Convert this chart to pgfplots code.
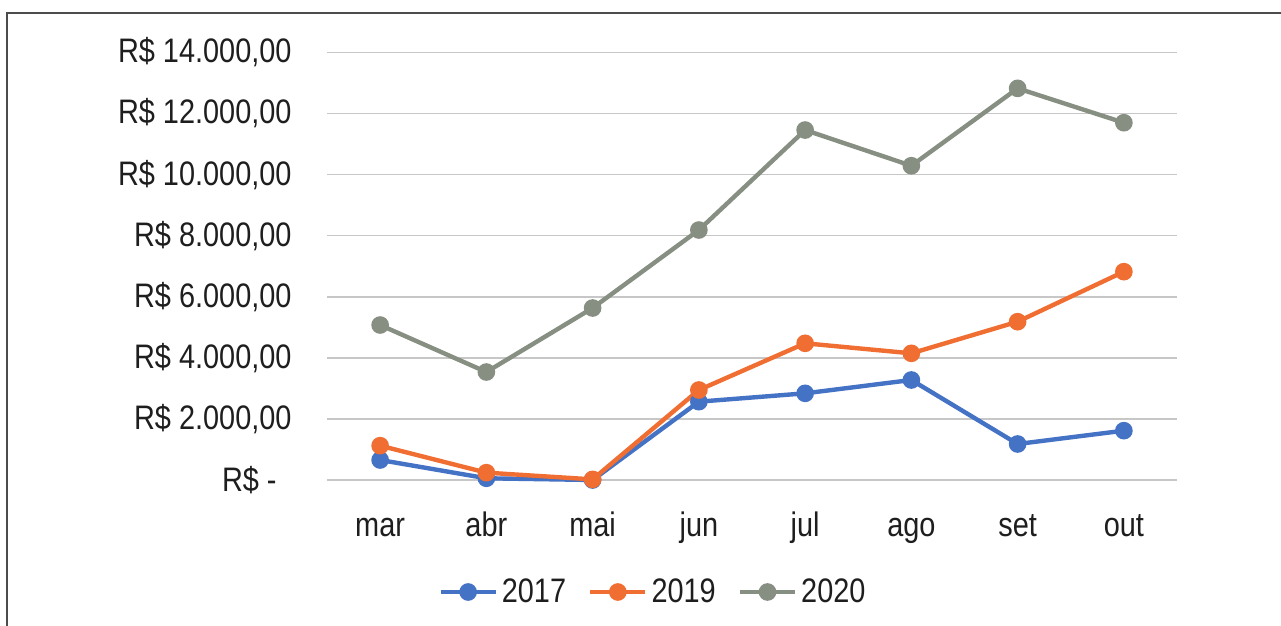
\documentclass[border=0pt]{standalone}
\usepackage{fontspec}
\setmainfont{Liberation Sans}[FakeStretch=0.85]
\usepackage{pgfplots}
\pgfplotsset{compat=1.18}
\definecolor{cblue}{RGB}{68,114,196}
\definecolor{corange}{RGB}{240,110,50}
\definecolor{cgray}{RGB}{135,142,130}
\definecolor{ctext}{RGB}{30,30,30}
\begin{document}
\begin{tikzpicture}
\path[use as bounding box] (0pt,0pt) rectangle (640.5pt,313pt);
\draw[line width=0.8pt, color=black!70] (3.5pt,-5pt) -- (3.5pt,306.5pt) -- (645pt,306.5pt);
\begin{axis}[
  at={(163.5pt,73pt)}, anchor=south west,
  scale only axis, width=425pt, height=213.75pt,
  xmin=-0.5, xmax=7.5, ymin=0, ymax=14000,
  scaled y ticks=false,
  xtick={0,...,7},
  xticklabels={mar,abr,mai,jun,jul,ago,set,out},
  ytick={0,2000,4000,6000,8000,10000,12000,14000},
  yticklabels={{R\$ -\kern7.5pt},{R\$ 2.000,00},{R\$ 4.000,00},{R\$ 6.000,00},{R\$ 8.000,00},{R\$ 10.000,00},{R\$ 12.000,00},{R\$ 14.000,00}},
  axis line style={draw=none},
  tick style={draw=none},
  major tick length=0pt,
  ymajorgrids,
  grid style={line width=0.75pt, color=black!22},
  tick label style={font=\fontsize{17}{20}\selectfont, text=ctext},
  yticklabel style={anchor=east, inner sep=0pt, xshift=-17.5pt},
  xticklabel style={anchor=base, inner sep=0pt, yshift=-28.5pt},
  clip=false,
  legend style={at={(0.3835,-0.262)}, anchor=center, draw=none, fill=none,
    legend columns=-1, font=\fontsize{17}{20}\selectfont, text=ctext,
    nodes={inner sep=1pt},
    /tikz/every odd column/.append style={column sep=1pt},
    /tikz/every even column/.append style={column sep=10pt}},
  legend image code/.code={\draw[mark repeat=2,mark phase=2,#1] plot coordinates {(0pt,0pt) (13.75pt,0pt) (27.5pt,0pt)};},
  every axis plot/.append style={line width=2.2pt, mark=*, mark size=3.3pt},
]
\addplot[color=cblue] coordinates {(0,655) (1,56) (2,0) (3,2565) (4,2838) (5,3275) (6,1179) (7,1615)};
\addlegendentry{2017}
\addplot[color=corange] coordinates {(0,1124) (1,240) (2,20) (3,2947) (4,4476) (5,4148) (6,5184) (7,6822)};
\addlegendentry{2019}
\addplot[color=cgray] coordinates {(0,5075) (1,3536) (2,5632) (3,8186) (4,11460) (5,10291) (6,12826) (7,11700)};
\addlegendentry{2020}
\end{axis}
\end{tikzpicture}
\end{document}
